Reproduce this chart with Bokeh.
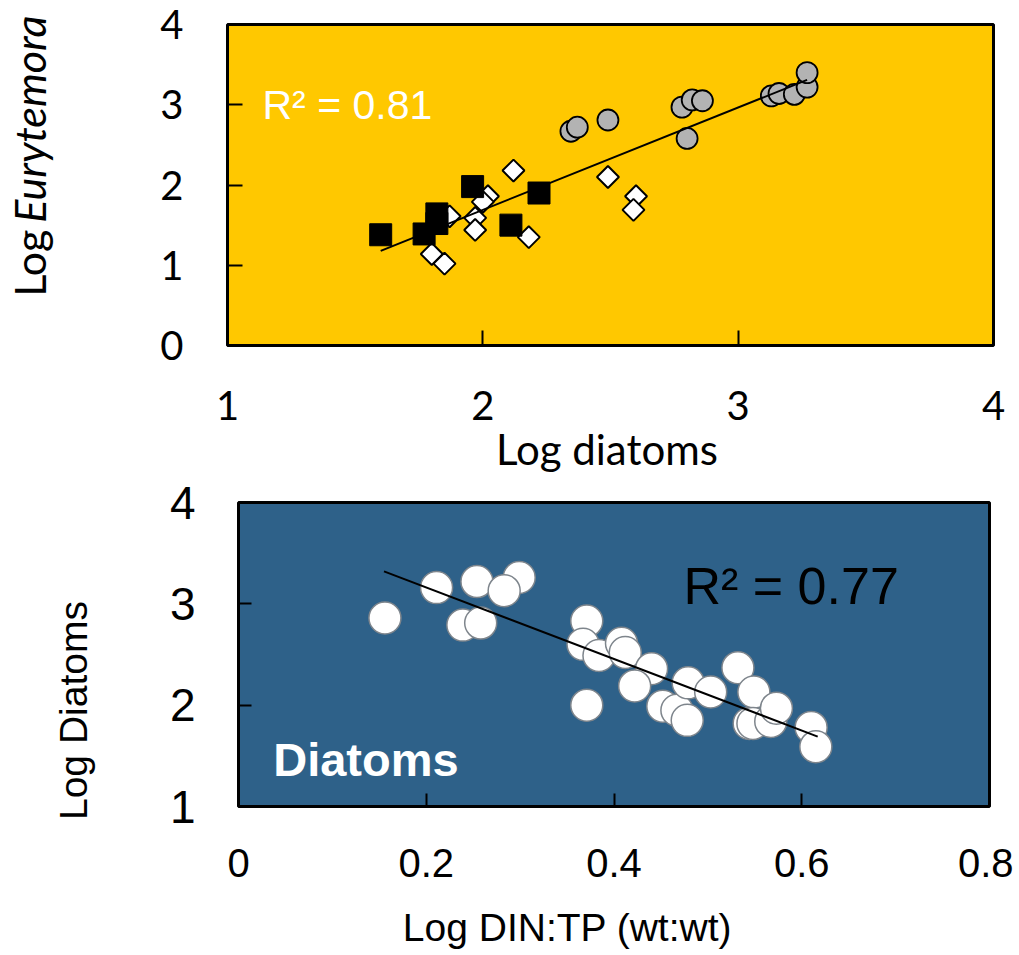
import math
from bokeh.plotting import figure
from bokeh.layouts import column
from bokeh.models import Label, FixedTicker, Range1d
from bokeh.embed import file_html
from bokeh.resources import INLINE

# ---------------- data: top panel (Log Eurytemora vs Log diatoms) ----------------
square_x = [1.60, 1.77, 1.82, 1.82, 1.96, 2.11, 2.22]
square_y = [1.38, 1.39, 1.64, 1.52, 1.98, 1.50, 1.90]

diamond_x = [2.12, 2.02, 2.00, 1.87, 1.97, 1.97, 2.18, 1.80, 1.85, 2.49, 2.60, 2.59]
diamond_y = [2.18, 1.86, 1.79, 1.61, 1.59, 1.44, 1.35, 1.14, 1.02, 2.10, 1.86, 1.69]

circle_x = [2.345, 2.37, 2.49, 2.78, 2.82, 2.86, 2.80, 3.13, 3.16, 3.22, 3.27, 3.27]
circle_y = [2.67, 2.72, 2.81, 2.97, 3.06, 3.05, 2.58, 3.11, 3.14, 3.13, 3.22, 3.40]

top_trend_x = [1.60, 3.27]
top_trend_y = [1.18, 3.31]

top_xticks = [1, 2, 3, 4]
top_yticks = [0, 1, 2, 3, 4]

# ---------------- data: bottom panel (Log Diatoms vs Log DIN:TP) ----------------
din_tp = [0.156, 0.211, 0.254, 0.299, 0.283, 0.239, 0.258, 0.371, 0.367, 0.384,
          0.408, 0.412, 0.440, 0.422, 0.371, 0.452, 0.467, 0.478, 0.479, 0.503,
          0.532, 0.549, 0.544, 0.548, 0.567, 0.573, 0.610, 0.615]
log_diatoms = [2.86, 3.16, 3.22, 3.26, 3.13, 2.79, 2.81, 2.83, 2.60, 2.49,
               2.61, 2.52, 2.36, 2.19, 2.00, 1.99, 1.95, 1.85, 2.22, 2.13,
               2.37, 2.13, 1.82, 1.82, 1.84, 1.97, 1.78, 1.59]

bot_trend_x = [0.155, 0.617]
bot_trend_y = [3.32, 1.69]

bot_xticks = [0, 0.2, 0.4, 0.6, 0.8]
bot_yticks = [1, 2, 3, 4]

# ---------------- top figure ----------------
p1 = figure(frame_width=766, frame_height=321, x_range=Range1d(1, 4), y_range=Range1d(0, 4),
            output_backend="svg", toolbar_location=None, frame_align=False,
            min_border_left=227, min_border_right=20, min_border_top=24, min_border_bottom=131)
p1.background_fill_color = "#FFC800"
p1.border_fill_color = "white"
p1.outline_line_color = "black"
p1.outline_line_width = 3
p1.grid.visible = False

for ax in (p1.xaxis[0], p1.yaxis[0]):
    ax.axis_line_color = None
    ax.major_tick_in = 15
    ax.major_tick_out = 0
    ax.major_tick_line_width = 2
    ax.major_tick_line_color = "black"
    ax.minor_tick_line_color = None
    ax.major_label_text_font = "Lato"
    ax.major_label_text_font_size = "40px"
    ax.major_label_text_color = "black"
p1.xaxis.ticker = FixedTicker(ticks=top_xticks)
p1.yaxis.ticker = FixedTicker(ticks=top_yticks)
p1.xaxis.major_label_standoff = 45
p1.yaxis.major_label_standoff = 44

p1.scatter(diamond_x, diamond_y, marker="square", angle=math.pi / 4, size=15.5,
           fill_color="white", line_color="black", line_width=2)
p1.scatter(square_x, square_y, marker="square", size=22,
           fill_color="black", line_color="black", line_width=1)
p1.scatter(circle_x, circle_y, marker="circle", size=21,
           fill_color="#B3B3B3", line_color="black", line_width=1.8)
p1.line(top_trend_x, top_trend_y, line_color="black", line_width=2)

p1.add_layout(Label(x=1.137, y=3.0, text="R² = 0.81", text_font="Liberation Sans",
                    text_font_size="41px", text_color="white", text_baseline="alphabetic"))
# axis titles placed in the side panels (data coordinates, not clipped)
p1.add_layout(Label(x=2.486, y=-1.29, text="Log diatoms", text_font="Lato",
                    text_font_size="42px", text_align="center",
                    text_baseline="alphabetic", text_color="black"), "below")
p1.add_layout(Label(x=0.2253, y=1.445, text="Log", angle=math.pi / 2,
                    text_font="Lato", text_font_size="43px", text_align="right",
                    text_baseline="alphabetic", text_color="black"), "left")
p1.add_layout(Label(x=0.2253, y=1.53, text="Eurytemora", angle=math.pi / 2,
                    text_font="Lato", text_font_size="43px", text_font_style="italic",
                    text_align="left", text_baseline="alphabetic", text_color="black"), "left")

# ---------------- bottom figure ----------------
p2 = figure(frame_width=751, frame_height=304, x_range=Range1d(0, 0.8), y_range=Range1d(1, 4),
            output_backend="svg", toolbar_location=None, frame_align=False,
            min_border_left=238, min_border_right=24, min_border_top=26, min_border_bottom=148)
p2.background_fill_color = "#2E6189"
p2.border_fill_color = "white"
p2.outline_line_color = "black"
p2.outline_line_width = 3
p2.grid.visible = False

for ax in (p2.xaxis[0], p2.yaxis[0]):
    ax.axis_line_color = None
    ax.major_tick_in = 13
    ax.major_tick_out = 0
    ax.major_tick_line_width = 2
    ax.major_tick_line_color = "black"
    ax.minor_tick_line_color = None
    ax.major_label_text_font = "Liberation Sans"
    ax.major_label_text_color = "black"
p2.xaxis.major_label_text_font_size = "40px"
p2.yaxis.major_label_text_font_size = "46px"
p2.xaxis.ticker = FixedTicker(ticks=bot_xticks)
p2.yaxis.ticker = FixedTicker(ticks=bot_yticks)
p2.xaxis.major_label_overrides = {0: "0", 0.2: "0.2", 0.4: "0.4", 0.6: "0.6", 0.8: "0.8"}
p2.xaxis.major_label_standoff = 42
p2.yaxis.major_label_standoff = 43

p2.scatter(din_tp, log_diatoms, marker="circle", size=32,
           fill_color="white", line_color="#7E858C", line_width=1.5)
p2.line(bot_trend_x, bot_trend_y, line_color="black", line_width=2)

p2.add_layout(Label(x=0.474, y=3.179, text="R² = 0.77", text_font="Liberation Sans",
                    text_font_size="52px", text_color="black", text_baseline="alphabetic"))
p2.add_layout(Label(x=0.037, y=1.463, text="Diatoms", text_font="Liberation Sans",
                    text_font_size="47px", text_font_style="bold", text_color="white",
                    text_baseline="alphabetic"))
p2.add_layout(Label(x=0.3505, y=-0.196, text="Log DIN:TP (wt:wt)", text_font="Liberation Sans",
                    text_font_size="39px", text_align="center", text_baseline="alphabetic",
                    text_color="black"), "below")
p2.add_layout(Label(x=-0.1756, y=1.947, text="Log Diatoms", angle=math.pi / 2,
                    text_font="Liberation Sans", text_font_size="39px", text_align="center",
                    text_baseline="alphabetic", text_color="black"), "left")

layout = column(p1, p2, spacing=0)
open("out.html", "w").write(file_html(layout, INLINE))
